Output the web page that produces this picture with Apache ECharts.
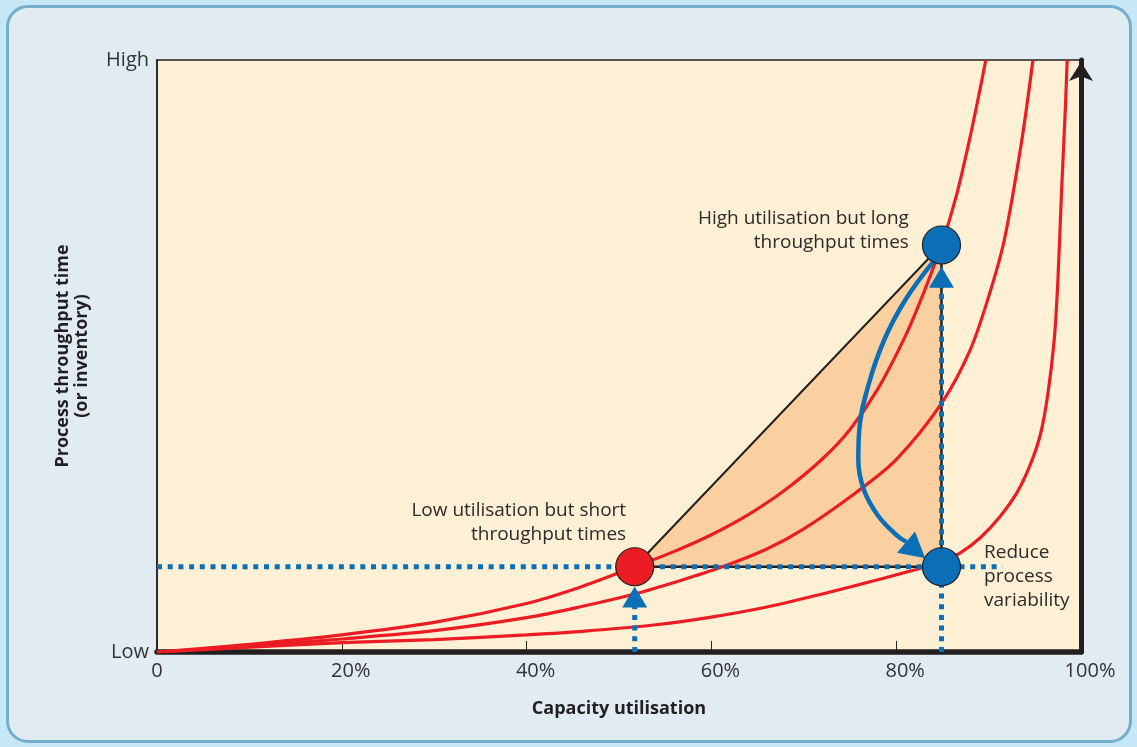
<!DOCTYPE html>
<html>
<head>
<meta charset="utf-8">
<script src="https://cdn.jsdelivr.net/npm/echarts@6/dist/echarts.min.js"></script>
<style>
  html, body { margin: 0; padding: 0; background: #c6e7f6; }
  #frame { position: absolute; left: 6px; top: 5px; width: 1120px; height: 732px;
           background: #e0ebf2; border: 3px solid #74aecb; border-radius: 22px; }
  #chart { position: absolute; left: 0; top: 0; width: 1137px; height: 747px; }
</style>
</head>
<body>
<div id="frame"></div>
<div id="chart"></div>
<script>
// ---- data ----
const xTickLabels = ['0', '20%', '40%', '60%', '80%', '100%'];
const yTickLabels = ['Low', 'High'];

// three throughput-time curves (x = capacity utilisation %, y = relative throughput time 0..100)
const curveA = [[0,0],[10,1.3],[20,2.9],[30,5.0],[40,8.2],[45.7,10.9],[51.7,14.4],[56,17.0],[60,19.8],[64,23.2],[68,27.4],[72,32.6],[75,37.6],[78,44.4],[81,53.4],[83,60.8],[84.9,68.75],[86.5,77],[88,87],[89,94.5],[89.7,100]];
const curveB = [[0,0],[10,1.0],[20,2.2],[30,3.6],[40,5.8],[45.7,7.6],[51.7,9.8],[56.5,12.0],[61.2,14.4],[66,17.4],[70,20.8],[75.7,27],[80,32.5],[84.9,42],[88,51],[90,60],[91.7,69.6],[93.6,86.5],[94.8,100]];
const curveC = [[0,0],[10,0.8],[20,1.6],[30,2.1],[40,2.9],[46,3.5],[54,4.6],[60,5.9],[66,7.6],[72,9.8],[78,12.2],[84.9,15.2],[86.9,16.7],[89.1,19.3],[91.2,22.8],[93.1,27],[94.5,31.6],[95.6,36.7],[96.4,43.4],[97.1,52.7],[97.5,62.8],[97.9,78],[98.3,91.6],[98.5,100]];

const lowPoint = [51.7, 14.4];     // low utilisation, short throughput
const highPoint = [84.9, 68.75];   // high utilisation, long throughput
const reducedPoint = [84.9, 14.4]; // after reducing variability

const hDotted = [[0, 14.4], [91.5, 14.4]];
const vDottedLow = [[51.7, 0], [51.7, 9.5]];
const vDottedHigh = [[84.9, 0], [84.9, 63.5]];
const upArrowHeads = [[51.7, 9.3], [84.9, 63.3]];

const bendArrowPath = [[84.0,65.9],[81.0,59.5],[78.7,52.7],[77.0,45.1],[76.0,37.5],[75.9,32.4],[76.5,27.4],[78.0,23.1],[80.0,19.8],[81.1,18.6]];
const bendArrowHead = [[82.1, 17.2]];

const lowLabel = 'Low utilisation but short\nthroughput times';
const highLabel = 'High utilisation but long\nthroughput times';
const reduceLabel = 'Reduce\nprocess\nvariability';

// ---- chart ----
const RED = '#ec1c24', BLUE = '#0b6fb8', INK = '#231f20';
const FONT = 'Open Sans';
const chart = echarts.init(document.getElementById('chart'));

const dotStyle = { color: BLUE, width: 5, type: [5, 5.7], cap: 'butt' };

chart.setOption({
  backgroundColor: 'transparent',
  animation: false,
  textStyle: { fontFamily: FONT },
  grid: { left: 157, top: 60, width: 924, height: 592, show: true,
          backgroundColor: '#fef0d4', borderColor: INK, borderWidth: 1.5 },
  xAxis: {
    type: 'value', min: 0, max: 100, interval: 20,
    name: 'Capacity utilisation', nameLocation: 'middle', nameGap: 48,
    nameTextStyle: { fontFamily: FONT, fontWeight: 'bold', fontSize: 18, color: INK },
    axisLine: { show: true, lineStyle: { color: INK, width: 5.5 } },
    axisTick: { show: true, inside: true, length: 11, lineStyle: { color: INK, width: 1 } },
    axisLabel: { fontSize: 20, color: '#333', margin: 9,
                 formatter: v => {
                   const t = xTickLabels[Math.round(v / 20)];
                   return t.endsWith('%') ? '{g|}' + t : t;
                 },
                 rich: { g: { width: 18 } } },
    splitLine: { show: false }
  },
  yAxis: [{
    type: 'value', min: 0, max: 100, interval: 100, position: 'left',
    name: 'Process throughput time\n(or inventory)', nameLocation: 'middle', nameRotate: 90, nameGap: 66,
    nameTextStyle: { fontFamily: FONT, fontWeight: 'bold', fontSize: 18, color: INK, lineHeight: 19 },
    axisLine: { show: true, lineStyle: { color: INK, width: 1.5 } },
    axisTick: { show: false },
    axisLabel: { fontSize: 20, color: '#333', margin: 8,
                 formatter: v => v === 0 ? yTickLabels[0] : yTickLabels[1] },
    splitLine: { show: false }
  }, {
    type: 'value', min: 0, max: 100, interval: 100, position: 'right',
    axisLine: { show: true, symbol: ['none', 'arrow'], symbolSize: [18, 19], symbolOffset: [0, -2],
                lineStyle: { color: INK, width: 5 } },
    axisTick: { show: false }, axisLabel: { show: false }, splitLine: { show: false }
  }],
  series: [
    { // shaded trade-off triangle
      type: 'custom', z: 1, silent: true,
      data: [lowPoint, highPoint, reducedPoint],
      renderItem: (params, api) => {
        if (params.dataIndex !== 0) return null;
        const pts = [lowPoint, highPoint, reducedPoint].map(p => api.coord(p));
        return { type: 'polygon', shape: { points: pts }, style: { fill: '#fbd0a0' } };
      }
    },
    { type: 'line', z: 2, data: [lowPoint, highPoint], symbol: 'none',
      lineStyle: { color: INK, width: 2 } },
    { type: 'line', z: 2, data: [lowPoint, reducedPoint, highPoint], symbol: 'none',
      lineStyle: { color: INK, width: 2.5 } },
    { type: 'line', z: 3, data: curveA, smooth: 0.3, symbol: 'none', lineStyle: { color: RED, width: 3.2 } },
    { type: 'line', z: 3, data: curveB, smooth: 0.3, symbol: 'none', lineStyle: { color: RED, width: 3.2 } },
    { type: 'line', z: 3, data: curveC, smooth: 0.3, symbol: 'none', lineStyle: { color: RED, width: 3.2 } },
    { type: 'line', z: 4, data: hDotted, symbol: 'none', lineStyle: dotStyle },
    { type: 'line', z: 4, data: vDottedLow, symbol: 'none', lineStyle: dotStyle },
    { type: 'line', z: 4, data: vDottedHigh, symbol: 'none', lineStyle: dotStyle },
    { type: 'line', z: 5, data: bendArrowPath, smooth: 0.4, symbol: 'none',
      lineStyle: { color: BLUE, width: 4.5 } },
    { type: 'scatter', z: 6, data: bendArrowHead, symbol: 'triangle', symbolSize: [28, 25],
      symbolRotate: -130, itemStyle: { color: BLUE, opacity: 1 } },
    { type: 'scatter', z: 6, data: upArrowHeads, symbol: 'triangle', symbolSize: [25, 21],
      itemStyle: { color: BLUE, opacity: 1 } },
    {
      type: 'scatter', z: 7, symbolSize: 38,
      itemStyle: { borderColor: INK, borderWidth: 1.2, opacity: 1 },
      label: { show: true, fontFamily: FONT, fontSize: 19, color: '#2b2b2b', lineHeight: 24 },
      data: [
        { value: lowPoint, itemStyle: { color: RED },
          label: { formatter: lowLabel, position: 'left', align: 'right', verticalAlign: 'bottom', offset: [16, -20] } },
        { value: highPoint, itemStyle: { color: BLUE },
          label: { formatter: highLabel, position: 'left', align: 'right', verticalAlign: 'middle', offset: [-8, -14] } },
        { value: reducedPoint, itemStyle: { color: BLUE },
          label: { formatter: reduceLabel, position: 'right', align: 'left', verticalAlign: 'middle', offset: [18, 10] } }
      ]
    }
  ]
});
</script>
</body>
</html>
